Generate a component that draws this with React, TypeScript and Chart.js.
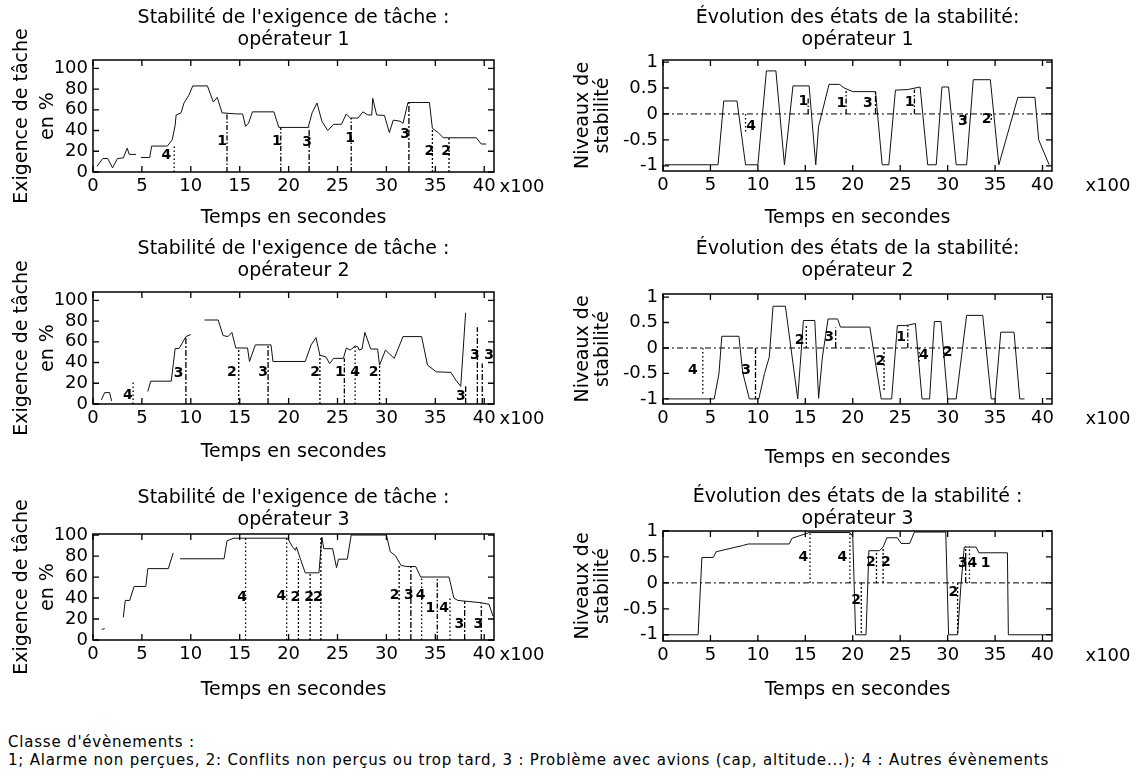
import React, { useEffect, useRef } from 'react';
import { Chart, registerables } from 'chart.js';

Chart.register(...registerables);

// ---------- axes ----------
const X_TICKS = [0, 5, 10, 15, 20, 25, 30, 35, 40];
const DEMAND_TICKS = [0, 20, 40, 60, 80, 100];
const STAB_TICKS = [-1, -0.5, 0, 0.5, 1];

// ---------- titles ----------
const DEMAND_TITLE = "Stabilité de l'exigence de tâche :";
const STAB_TITLE = 'Évolution des états de la stabilité:';
const STAB_TITLE_3 = 'Évolution des états de la stabilité :';
const OPERATORS = ['opérateur 1', 'opérateur 2', 'opérateur 3'];
const DEMAND_YTITLE = ['Exigence de tâche', 'en %'];
const STAB_YTITLE = ['Niveaux de', 'stabilité'];
const X_TITLE = 'Temps en secondes';
const X_UNIT = 'x100';
const NOTE_1 = "Classe d'évènements :";
const NOTE_2 = '1; Alarme non perçues, 2: Conflits non perçus ou trop tard, 3 : Problème avec avions (cap, altitude...); 4 : Autres évènements';

// ---------- operator 1 : task demand ----------
const D1_T = [0.4, 1.0, 1.5, 2.0, 2.5, 3.1, 3.5, 3.7, 4.4, 4.65, 4.9, 5.8, 6.0, 7.6, 8.1, 8.4, 8.5, 9.0, 9.3, 9.8, 10.2, 11.7, 12.3, 12.7, 13.2, 14.7, 15.3, 15.6, 15.9, 16.3, 18.5, 19.0, 22.0, 22.4, 22.9, 23.4, 24.0, 24.6, 25.4, 25.9, 26.3, 27.1, 27.6, 28.1, 28.5, 28.6, 29.0, 29.8, 30.3, 30.7, 31.4, 31.7, 32.2, 34.4, 34.7, 35.3, 35.8, 39.2, 39.7, 40.2];
const D1_V = [5.5, 13, 13, 4, 13, 13.6, 23, 17, 17, null, 14, 14, 25, 25, 31, 45, 55, 57, 66.5, 74, 83, 83, 67.5, 72, 57, 56, 56, 44, 47, 58, 58, 43, 43, 57, 66.5, 49, 40, 46, 46, 56, 52, 52, 58, 55, 55, 71, 55, 54.5, 38, 50, 49, 47, 67, 67, 42, 38, 33, 33, 27, 27];
const D1_EV_T = [8.3, 13.7, 19.2, 22.1, 26.4, 32.3, 34.7, 36.4];
const D1_EV_TOP = [27, 57, 43, 43, 52, 67, 42, 33];
const D1_EV_CLASS = [4, 1, 1, 3, 1, 3, 2, 2];
const D1_LBL = ['4', '1', '1', '3', '1', '3', '2', '2'];
const D1_LBL_T = [7.5, 13.2, 18.8, 21.9, 26.3, 31.9, 34.4, 36.1];
const D1_LBL_V = [16, 30, 30, 28.5, 32, 36, 19.5, 19.5];

// ---------- operator 2 : task demand ----------
const D2_T = [0.85, 1.2, 1.7, 1.9, 3.0, 5.6, 5.9, 8.0, 8.4, 8.8, 9.2, 9.5, 10.0, 10.7, 11.4, 12.8, 13.3, 13.8, 14.2, 14.6, 15.8, 16.0, 16.6, 18.2, 18.4, 21.7, 22.3, 22.8, 23.2, 23.8, 24.2, 24.6, 25.6, 25.9, 26.3, 26.8, 27.1, 27.2, 27.5, 27.8, 28.4, 29.1, 29.3, 29.9, 30.8, 31.7, 33.6, 34.2, 35.1, 36.6, 37.1, 37.6, 38.1];
const D2_V = [4, 11, 11, 3, null, 12, 22, 22, 53.5, 53.5, 60, 65, 67, null, 81, 81, 66, 65, 69, 54, 54, 41, 57, 57, 41, 41, 57, 64, 47, 45.5, 39, 44, 44, 54, 52, 56, 55, 52, 53, 69, 53, 53, 37.5, 52, 44, 65, 65, 37.5, 31, 30.5, 23, 17, 88];
const D2_EV_T = [4.1, 9.5, 14.9, 17.9, 23.2, 25.7, 26.8, 29.3, 38.1, 39.3, 39.8];
const D2_EV_TOP = [21, 65, 54, 57, 47, 44, 55, 37.5, 17, 74, 39];
const D2_EV_CLASS = [4, 3, 2, 3, 2, 1, 4, 2, 3, 3, 3];
const D2_LBL = ['4', '3', '2', '3', '2', '1', '4', '2', '3', '3', '3'];
const D2_LBL_T = [3.56, 8.75, 14.2, 17.4, 22.7, 25.25, 26.8, 28.7, 37.6, 39.05, 40.5];
const D2_LBL_V = [8, 29.5, 30.4, 30.4, 30.4, 30.4, 30.4, 30.4, 7, 47, 47];

// ---------- operator 3 : task demand ----------
const D3_T = [0.9, 1.2, 2.0, 3.1, 3.3, 3.75, 4.2, 5.4, 5.6, 7.7, 8.2, 8.5, 8.9, 13.4, 13.7, 14.4, 19.9, 20.4, 20.7, 20.8, 21.2, 21.7, 23.1, 23.4, 23.6, 24.5, 24.9, 25.1, 26.0, 26.4, 27.0, 30.0, 30.4, 30.9, 31.5, 32.1, 33.0, 33.5, 36.4, 36.9, 37.3, 39.7, 40.5, 40.9];
const D3_V = [10, 11, null, 21.6, 37.7, 37.7, 51, 51, 68, 68, 83, null, 77.4, 77.4, 94.5, 97, 97, 88.7, 85.5, 88.7, 77.4, 64, 64, 98, 87, 87, 69, 77, 77, 100, 100, 100, 84, 80.6, 71, 70, 70, 60, 60, 40, 37.7, 35.5, 34, 22.6];
const D3_EV_T = [15.6, 19.8, 21.0, 22.2, 23.3, 31.3, 32.5, 33.6, 35.2, 36.5, 38.0, 39.7];
const D3_EV_TOP = [97, 97, 77, 64, 98, 71, 70, 60, 60, 40, 37, 35];
const D3_EV_CLASS = [4, 4, 2, 2, 2, 2, 3, 4, 1, 4, 3, 3];
const D3_LBL = ['4', '4', '2', '2', '2', '2', '3', '4', '1', '4', '3', '3'];
const D3_LBL_T = [15.25, 19.25, 20.7, 22.1, 23.0, 30.85, 32.3, 33.5, 34.5, 35.9, 37.45, 39.4];
const D3_LBL_V = [40.3, 42, 40.3, 40.3, 40.3, 43, 43, 43, 30.6, 30.6, 14.5, 14.5];

// ---------- operator 1 : stability ----------
const S1_T = [0.2, 5.8, 6.4, 7.8, 8.7, 10.0, 10.9, 11.9, 12.8, 13.7, 15.4, 16.1, 16.4, 17.5, 18.6, 19.1, 20.0, 22.4, 23.1, 23.8, 24.5, 25.8, 27.1, 27.9, 28.8, 29.4, 30.1, 30.9, 32.0, 32.7, 34.5, 35.4, 37.4, 39.2, 39.6, 40.7];
const S1_V = [-0.98, -0.98, 0.25, 0.25, -0.98, -0.98, 0.83, 0.83, -0.98, 0.54, 0.54, -0.98, -0.24, 0.57, 0.57, 0.5, 0.43, 0.43, -0.98, -0.98, 0.46, 0.47, 0.52, -0.98, -0.98, 0.52, 0.52, -0.98, -0.98, 0.66, 0.66, -0.98, 0.32, 0.32, -0.5, -0.98];
const S1_EV_T = [8.7, 15.3, 19.3, 22.4, 26.5, 31.9, 34.6];
const S1_EV_TOP = [-0.37, 0.3, 0.44, 0.43, 0.47, -0.2, -0.15];
const S1_EV_CLASS = [4, 1, 1, 3, 1, 3, 2];
const S1_LBL = ['4', '1', '1', '3', '1', '3', '2'];
const S1_LBL_T = [9.3, 14.8, 18.8, 21.6, 26.0, 31.6, 34.1];
const S1_LBL_V = [-0.24, 0.245, 0.21, 0.21, 0.23, -0.14, -0.11];

// ---------- operator 2 : stability ----------
const S2_T = [0.2, 5.4, 5.9, 6.2, 8.0, 8.4, 9.1, 10.1, 10.7, 11.2, 11.6, 12.9, 14.2, 14.8, 16.0, 16.4, 16.8, 17.4, 18.4, 18.7, 21.8, 23.0, 24.1, 24.7, 25.6, 26.6, 27.3, 28.1, 28.6, 29.3, 30.0, 30.9, 32.0, 33.7, 34.6, 35.0, 35.6, 37.0, 37.6, 38.1];
const S2_V = [-1, -1, -0.5, 0.23, 0.23, -0.48, -1, -1, -0.5, -0.18, 0.82, 0.82, -1, 0.54, 0.54, -0.99, -0.18, 0.57, 0.57, 0.41, 0.41, -1, -1, 0.44, 0.44, 0.48, -1, -1, 0.52, 0.52, -1, -1, 0.64, 0.64, -1, -1, 0.31, 0.31, -1, -1];
const S2_EV_T = [4.2, 9.75, 15.1, 18.2, 23.3, 25.8, 27.0, 29.6];
const S2_EV_TOP = [-0.93, -1, 0.47, 0.4, -0.86, 0.44, -0.3, -0.2];
const S2_EV_CLASS = [4, 3, 2, 3, 2, 1, 4, 2];
const S2_LBL = ['4', '3', '2', '3', '2', '1', '4', '2'];
const S2_LBL_T = [3.16, 8.77, 14.4, 17.5, 22.9, 25.1, 27.5, 30.0];
const S2_LBL_V = [-0.44, -0.44, 0.15, 0.21, -0.26, 0.21, -0.14, -0.08];

// ---------- operator 3 : stability ----------
const S3_T = [0.2, 3.7, 4.1, 5.3, 5.6, 8.4, 9.0, 13.3, 13.6, 15.4, 19.7, 20.0, 20.3, 21.4, 21.7, 22.8, 23.2, 23.6, 24.7, 25.1, 26.0, 26.5, 29.8, 30.1, 31.05, 31.4, 31.75, 33.0, 33.3, 36.3, 36.4, 40.4];
const S3_V = [-1, -1, 0.49, 0.49, 0.6, 0.72, 0.75, 0.75, 0.86, 0.97, 0.97, 0.9, -1, -1, 0.62, 0.62, 0.69, 0.87, 0.87, 0.76, 0.76, 0.98, 0.98, -1, -1, -0.05, 0.69, 0.69, 0.58, 0.58, -1, -1];
const S3_EV_T = [15.5, 19.7, 20.9, 22.5, 23.2, 31.05, 31.9, 32.3];
const S3_EV_TOP = [0.97, 0.97, -1, 0.62, 0.69, -1, 0.7, 0.7];
const S3_EV_CLASS = [4, 4, 2, 2, 2, 2, 3, 4];
const S3_LBL = ['4', '4', '2', '2', '2', '2', '3', '4', '1'];
const S3_LBL_T = [14.8, 18.9, 20.35, 21.9, 23.5, 30.6, 31.6, 32.6, 34.0];
const S3_LBL_V = [0.49, 0.49, -0.34, 0.4, 0.4, -0.18, 0.37, 0.37, 0.37];

// ---------- styling / layout ----------
const FONT = '"DejaVu Sans", sans-serif';
const DASHES: Record<number, number[]> = {
  1: [5, 2, 1.5, 2],
  2: [2, 2],
  3: [6, 2, 2, 2],
  4: [1.5, 2.5],
};
const X_MAX = 41;

type Cfg = {
  left: number; top: number; w: number; h: number;
  areaTop: number; areaBottom: number; yW: number; padR: number;
  yMin: number; yMax: number; yTicks: number[]; stab: boolean;
  title: string[]; titleY: number; xTitleDy: number; x100X: number;
  yTitle: string[]; yTitleX: number[];
  t: number[]; v: (number | null)[];
  evT: number[]; evTop: number[]; evClass: number[];
  lbl: string[]; lblT: number[]; lblV: number[];
};

const LEFT_COL = { left: 0, w: 560, yW: 93, padR: 66, x100X: 522, yTitleX: [22, 48] };
const RIGHT_COL = { left: 560, w: 577, yW: 103, padR: 85, x100X: 548, yTitleX: [23, 43] };

const PLOTS: Cfg[] = [
  {
    ...LEFT_COL, top: 0, h: 235, areaTop: 60, areaBottom: 172,
    yMin: 0, yMax: 108, yTicks: DEMAND_TICKS, stab: false,
    title: [DEMAND_TITLE, OPERATORS[0]], titleY: 18, xTitleDy: 46,
    yTitle: DEMAND_YTITLE,
    t: D1_T, v: D1_V, evT: D1_EV_T, evTop: D1_EV_TOP, evClass: D1_EV_CLASS,
    lbl: D1_LBL, lblT: D1_LBL_T, lblV: D1_LBL_V,
  },
  {
    ...LEFT_COL, top: 235, h: 240, areaTop: 57, areaBottom: 169,
    yMin: 0, yMax: 108, yTicks: DEMAND_TICKS, stab: false,
    title: [DEMAND_TITLE, OPERATORS[1]], titleY: 14, xTitleDy: 48,
    yTitle: DEMAND_YTITLE,
    t: D2_T, v: D2_V, evT: D2_EV_T, evTop: D2_EV_TOP, evClass: D2_EV_CLASS,
    lbl: D2_LBL, lblT: D2_LBL_T, lblV: D2_LBL_V,
  },
  {
    ...LEFT_COL, top: 475, h: 245, areaTop: 59, areaBottom: 165,
    yMin: 0, yMax: 101, yTicks: DEMAND_TICKS, stab: false,
    title: [DEMAND_TITLE, OPERATORS[2]], titleY: 23, xTitleDy: 50,
    yTitle: DEMAND_YTITLE,
    t: D3_T, v: D3_V, evT: D3_EV_T, evTop: D3_EV_TOP, evClass: D3_EV_CLASS,
    lbl: D3_LBL, lblT: D3_LBL_T, lblV: D3_LBL_V,
  },
  {
    ...RIGHT_COL, top: 0, h: 235, areaTop: 60, areaBottom: 171,
    yMin: -1.1, yMax: 1.04, yTicks: STAB_TICKS, stab: true,
    title: [STAB_TITLE, OPERATORS[0]], titleY: 18, xTitleDy: 47,
    yTitle: STAB_YTITLE,
    t: S1_T, v: S1_V, evT: S1_EV_T, evTop: S1_EV_TOP, evClass: S1_EV_CLASS,
    lbl: S1_LBL, lblT: S1_LBL_T, lblV: S1_LBL_V,
  },
  {
    ...RIGHT_COL, top: 235, h: 240, areaTop: 59, areaBottom: 169,
    yMin: -1.1, yMax: 1.06, yTicks: STAB_TICKS, stab: true,
    title: [STAB_TITLE, OPERATORS[1]], titleY: 14, xTitleDy: 54,
    yTitle: STAB_YTITLE,
    t: S2_T, v: S2_V, evT: S2_EV_T, evTop: S2_EV_TOP, evClass: S2_EV_CLASS,
    lbl: S2_LBL, lblT: S2_LBL_T, lblV: S2_LBL_V,
  },
  {
    ...RIGHT_COL, top: 475, h: 245, areaTop: 56, areaBottom: 166,
    yMin: -1.12, yMax: 1.0, yTicks: STAB_TICKS, stab: true,
    title: [STAB_TITLE_3, OPERATORS[2]], titleY: 22, xTitleDy: 49,
    yTitle: STAB_YTITLE,
    t: S3_T, v: S3_V, evT: S3_EV_T, evTop: S3_EV_TOP, evClass: S3_EV_CLASS,
    lbl: S3_LBL, lblT: S3_LBL_T, lblV: S3_LBL_V,
  },
];

function Plot({ cfg, idx }: { cfg: Cfg; idx: number }) {
  const ref = useRef<HTMLCanvasElement>(null);

  useEffect(() => {
    const canvas = ref.current;
    if (!canvas) return;
    const datasets: any[] = [];
    if (cfg.stab) {
      datasets.push({
        data: [{ x: 0, y: 0 }, { x: X_MAX, y: 0 }],
        borderColor: '#000', borderWidth: 1, borderDash: [6, 3, 2, 3], pointRadius: 0,
      });
    }
    cfg.evT.forEach((t, i) => {
      datasets.push({
        data: [{ x: t, y: 0 }, { x: t, y: cfg.evTop[i] }],
        borderColor: '#000', borderWidth: 1.3, borderDash: DASHES[cfg.evClass[i]], pointRadius: 0,
      });
    });
    datasets.push({
      data: cfg.t.map((x, i) => ({ x, y: cfg.v[i] })),
      borderColor: '#111', borderWidth: 1, pointRadius: 0, tension: 0,
    });

    const frame = {
      id: 'gnuFrame' + idx,
      afterDraw(chart: any) {
        const { ctx, chartArea: a } = chart;
        const xs = chart.scales.x;
        const ys = chart.scales.y;
        ctx.save();
        ctx.strokeStyle = '#000';
        ctx.lineWidth = 1.5;
        ctx.strokeRect(a.left, a.top, a.right - a.left, a.bottom - a.top);
        ctx.lineWidth = 1.3;
        ctx.beginPath();
        X_TICKS.forEach((v) => {
          const p = xs.getPixelForValue(v);
          ctx.moveTo(p, a.bottom); ctx.lineTo(p, a.bottom - 6);
          ctx.moveTo(p, a.top); ctx.lineTo(p, a.top + 6);
        });
        cfg.yTicks.forEach((v) => {
          const p = ys.getPixelForValue(v);
          ctx.moveTo(a.left, p); ctx.lineTo(a.left + 6, p);
          ctx.moveTo(a.right, p); ctx.lineTo(a.right - 6, p);
        });
        ctx.stroke();

        ctx.fillStyle = '#000';
        ctx.textAlign = 'center';
        ctx.textBaseline = 'middle';
        ctx.font = `19px ${FONT}`;
        const cx = (a.left + a.right) / 2;
        ctx.fillText(cfg.title[0], cx, cfg.titleY);
        ctx.fillText(cfg.title[1], cx, cfg.titleY + 22);
        ctx.fillText(X_TITLE, cx, a.bottom + cfg.xTitleDy);
        ctx.font = `18px ${FONT}`;
        ctx.fillText(X_UNIT, cfg.x100X, a.bottom + 15);
        ctx.font = `19px ${FONT}`;
        const cy = (a.top + a.bottom) / 2;
        cfg.yTitle.forEach((s, i) => {
          ctx.save();
          ctx.translate(cfg.yTitleX[i], cy);
          ctx.rotate(-Math.PI / 2);
          ctx.fillText(s, 0, 0);
          ctx.restore();
        });
        ctx.font = `bold 14px ${FONT}`;
        cfg.lbl.forEach((s, i) => {
          ctx.fillText(s, xs.getPixelForValue(cfg.lblT[i]), ys.getPixelForValue(cfg.lblV[i]));
        });
        ctx.restore();
      },
    };

    const chart = new Chart(canvas, {
      type: 'line',
      data: { datasets },
      options: {
        animation: false,
        responsive: false,
        devicePixelRatio: 1,
        events: [],
        layout: { padding: { left: 0, right: cfg.padR, top: cfg.areaTop, bottom: 0 } },
        plugins: { legend: { display: false }, tooltip: { enabled: false }, title: { display: false } },
        elements: { point: { radius: 0 }, line: { tension: 0 } },
        scales: {
          x: {
            type: 'linear', min: 0, max: X_MAX,
            afterBuildTicks: (s: any) => { s.ticks = X_TICKS.map((value) => ({ value })); },
            afterFit: (s: any) => { s.height = cfg.h - cfg.areaBottom; },
            grid: { display: false, drawTicks: false },
            border: { display: false },
            ticks: { autoSkip: false, maxRotation: 0, padding: 4, color: '#000', font: { family: FONT, size: 18 } },
          },
          y: {
            type: 'linear', min: cfg.yMin, max: cfg.yMax,
            afterBuildTicks: (s: any) => { s.ticks = cfg.yTicks.map((value) => ({ value })); },
            afterFit: (s: any) => { s.width = cfg.yW; },
            grid: { display: false, drawTicks: false },
            border: { display: false },
            ticks: { autoSkip: false, padding: 5, color: '#000', font: { family: FONT, size: 18 },
              callback: (v: any) => String(v) },
          },
        },
      },
      plugins: [frame],
    } as any);
    return () => chart.destroy();
  }, [cfg, idx]);

  return (
    <canvas
      ref={ref}
      width={cfg.w}
      height={cfg.h}
      style={{ position: 'absolute', left: cfg.left, top: cfg.top, width: cfg.w, height: cfg.h }}
    />
  );
}

export default function App() {
  return (
    <div style={{ position: 'absolute', left: 0, top: 0, width: 1137, height: 781, background: '#fff', overflow: 'hidden' }}>
      {PLOTS.map((cfg, i) => <Plot key={i} cfg={cfg} idx={i} />)}
      <div style={{
        position: 'absolute', left: 8, top: 733, fontFamily: '"DejaVu Sans", sans-serif',
        fontSize: 15, lineHeight: '18px', letterSpacing: '0.8px', color: '#000', whiteSpace: 'nowrap',
      }}>
        <div>{NOTE_1}</div>
        <div>{NOTE_2}</div>
      </div>
    </div>
  );
}
